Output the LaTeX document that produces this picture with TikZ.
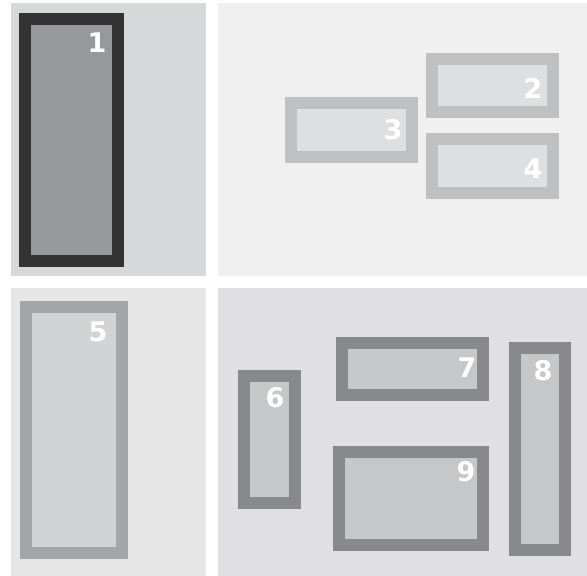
\documentclass[tikz,border=0pt]{standalone}
\usepackage{fontspec}
\setmainfont{DejaVu Sans}
\definecolor{bgA}{HTML}{D7D8DA}
\definecolor{bgB}{HTML}{F0F0F0}
\definecolor{bgC}{HTML}{E6E6E7}
\definecolor{bgD}{HTML}{E0E0E2}
\definecolor{brA}{HTML}{333333}
\definecolor{fiA}{HTML}{97989B}
\definecolor{brB}{HTML}{BFC0C2}
\definecolor{fiB}{HTML}{DEDFE0}
\definecolor{brC}{HTML}{A4A5A8}
\definecolor{fiC}{HTML}{D2D3D5}
\definecolor{brD}{HTML}{88898C}
\definecolor{fiD}{HTML}{C6C7C9}
\tikzset{numlabel/.style={text=white,font=\bfseries\fontsize{27}{27}\selectfont,inner sep=0pt}}
% #1 border colour, #2 fill colour, #3 x1, #4 y1, #5 x2, #6 y2
\newcommand\framebx[6]{%
  \fill[#1] (#3,#4) rectangle (#5,#6);
  \fill[#2] ({#3+12},{#4+12}) rectangle ({#5-12},{#6-12});
}
\begin{document}
\begin{tikzpicture}[x=1pt,y=-1pt]
\useasboundingbox (0,0) rectangle (587,576);
\fill[white] (0,0) rectangle (587,576);
% panels
\fill[bgA] (11,3) rectangle (206,276);
\fill[bgB] (218,3) rectangle (587,276);
\fill[bgC] (11,288) rectangle (206,576);
\fill[bgD] (218,288) rectangle (587,576);
% box 1
\framebx{brA}{fiA}{19}{13}{124}{267}
\node[numlabel] (n1) at (97,43) {1};
% boxes 2-4
\framebx{brB}{fiB}{426}{53}{559}{118}
\node[numlabel] (n2) at (533,88) {2};
\framebx{brB}{fiB}{285}{97}{418}{163}
\node[numlabel] (n3) at (393,130) {3};
\framebx{brB}{fiB}{426}{133}{559}{199}
\node[numlabel] (n4) at (533,169) {4};
% box 5
\framebx{brC}{fiC}{20}{301}{128}{559}
\node[numlabel] (n5) at (98,332) {5};
% boxes 6-9
\framebx{brD}{fiD}{238}{370}{301}{509}
\node[numlabel] (n6) at (275,398) {6};
\framebx{brD}{fiD}{336}{337}{489}{401}
\node[numlabel] (n7) at (467,368) {7};
\framebx{brD}{fiD}{509}{342}{571}{556}
\node[numlabel] (n8) at (543,371) {8};
\framebx{brD}{fiD}{333}{446}{489}{551}
\node[numlabel] (n9) at (466,472) {9};
\end{tikzpicture}
\end{document}
